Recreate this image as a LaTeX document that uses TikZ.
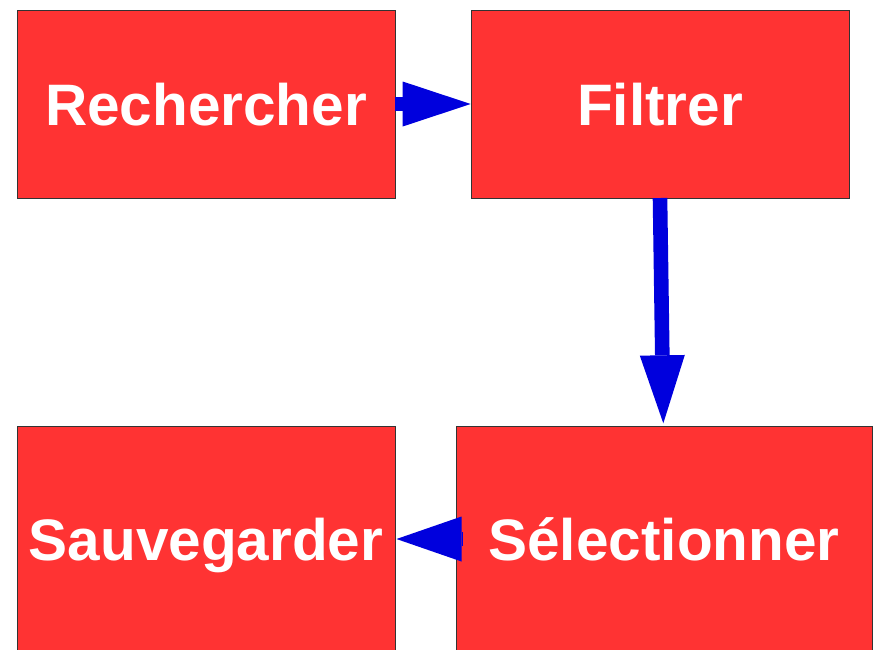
\documentclass[tikz,border=0pt]{standalone}
\usepackage{fontspec}
\setmainfont{Liberation Sans}
\usetikzlibrary{arrows.meta}
\definecolor{boxred}{HTML}{FF3333}
\definecolor{arrblue}{HTML}{0000DD}
\tikzset{
  stepbox/.style={rectangle, draw=black!80, line width=0.8pt, fill=boxred,
    inner sep=0pt, outer sep=0pt, text=white, text height=42pt, text depth=0pt,
    font=\fontsize{58.5}{60}\selectfont\bfseries},
  arr/.style={draw=arrblue, line width=14.6pt,
    -{Triangle[length=68pt,width=45pt,line width=0pt,fill=arrblue]}}
}
\begin{document}
\begin{tikzpicture}[x=1pt,y=-1pt]
\clip (0,0) rectangle (877,649);
\fill[white] (0,0) rectangle (877,649);
\node[stepbox, minimum width=378pt, minimum height=188pt] (rech) at (206,104) {Rechercher};
\node[stepbox, minimum width=378pt, minimum height=188pt] (filt) at (660,104) {Filtrer};
\node[stepbox, minimum width=378pt, minimum height=226pt] (sauv) at (206,539) {Sauvegarder};
\node[stepbox, minimum width=416pt, minimum height=226pt] (sel) at (664,539) {Sélectionner};
\draw[arr] (rech.east) -- ([xshift=-0.3pt]filt.west);
\draw[arr] (filt.south) -- ([xshift=-0.7pt,yshift=2.7pt]sel.north);
\draw[arr, -{Triangle[length=65pt,width=45pt,line width=0pt,fill=arrblue]}] ([xshift=7pt]sel.west) -- ([xshift=1.5pt]sauv.east);
\end{tikzpicture}
\end{document}
